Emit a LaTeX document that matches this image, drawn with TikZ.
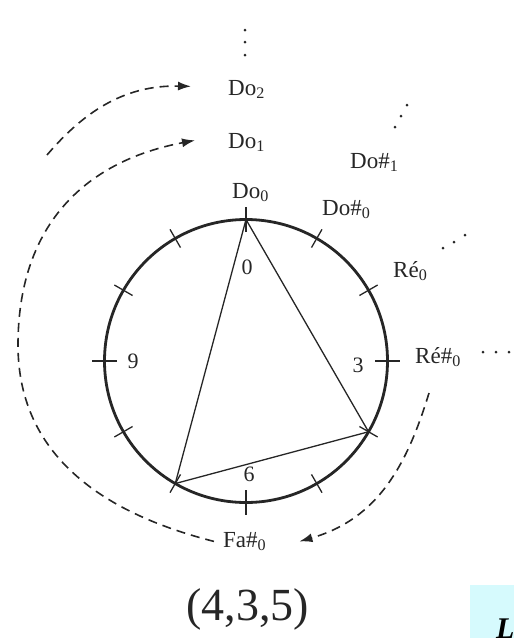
\documentclass[tikz,border=0pt]{standalone}
\usepackage{fontspec}
\setmainfont{Liberation Serif}
\usetikzlibrary{arrows.meta}
\definecolor{ink}{HTML}{262626}
\definecolor{boxcyan}{HTML}{D6FAFD}
\begin{document}
\begin{tikzpicture}[x=1pt,y=-1pt,
  lbl/.style={inner sep=0pt, anchor=base west, font=\fontsize{23}{26}\selectfont, text=ink},
  num/.style={inner sep=0pt, font=\fontsize{22}{26}\selectfont, text=ink},
  ring/.style={line width=2.8pt, draw=ink},
  tickmark/.style={line width=1.3pt, draw=ink},
  chord/.style={line width=1.3pt, draw=ink},
  dasharr/.style={line width=1.6pt, draw=ink, dash pattern=on 9pt off 6pt,
    -{Latex[length=13pt,width=9pt]}},
  dotmark/.style={fill=ink, draw=none}
]
\useasboundingbox (0,0) rectangle (514,638);

% circle, ticks, triangle
\coordinate (c) at (246,361);
\draw[ring] (c) circle[radius=141.5pt];
\begin{scope}[shift={(246,361)}]
  \foreach \a in {-60,-30,30,60,120,150,210,240}
    \draw[tickmark] (\a:131) -- (\a:152);
  \foreach \a in {-90,0,90,180}
    \draw[tickmark] (\a:129) -- (\a:154);
  \coordinate (v0) at (-90:141.5);
  \coordinate (v4) at (30:141.5);
  \coordinate (v7) at (120:141.5);
\end{scope}
\draw[chord] (v0) -- (v4) -- (v7) -- cycle;

% numbers
\node[num] (n0) at (247,267) {0};
\node[num] (n3) at (358,365) {3};
\node[num] (n6) at (249,474) {6};
\node[num] (n9) at (133,361) {9};

% note labels
\node[lbl] (do2) at (228,95) {Do\textsubscript{2}};
\node[lbl] (do1) at (228,148) {Do\textsubscript{1}};
\node[lbl] (do0) at (232,198) {Do\textsubscript{0}};
\node[lbl] (dos0) at (322,215) {Do\#\textsubscript{0}};
\node[lbl] (dos1) at (350,168) {Do\#\textsubscript{1}};
\node[lbl] (re0) at (393,277) {Ré\textsubscript{0}};
\node[lbl] (res0) at (415,363) {Ré\#\textsubscript{0}};
\node[lbl] (fas0) at (223,547) {Fa\#\textsubscript{0}};

% continuation dots
\foreach \p in {(245,30),(245,42),(245,55),
                (395,127),(401,116),(407,105),
                (443,248),(454,242),(465,235),
                (483,352),(496,352),(509,352)}
  \fill[dotmark] \p circle[radius=1.5pt];

% dashed arrows
\coordinate (a1s) at (47,155);
\draw[dasharr] (a1s) .. controls (87,108) and (128,85) .. ([xshift=-37pt,yshift=3pt]do2.west);
\coordinate (a2m) at (18,345);
\draw[dasharr] ([xshift=-9pt]fas0.west) .. controls (110,515) and (18,460) .. (a2m)
  .. controls (18,229) and (81,162) .. ([xshift=-33pt,yshift=2pt]do1.west);
\coordinate (a3s) at (429,393);
\draw[dasharr] (a3s) .. controls (407,465) and (378,519) .. ([xshift=33pt]fas0.east);

% caption
\node[inner sep=0pt, font=\fontsize{46}{50}\selectfont, text=ink] (cap) at (247.5,609) {(4,3,5)};

% cropped corner box
\fill[boxcyan] (470,585) rectangle (514,638);
\begin{scope}
  \clip (470,585) rectangle (514,638);
  \node[inner sep=0pt, anchor=base west, font=\fontsize{30}{30}\selectfont\bfseries\itshape] (cornerL) at (496,638) {L};
\end{scope}
\end{tikzpicture}
\end{document}
